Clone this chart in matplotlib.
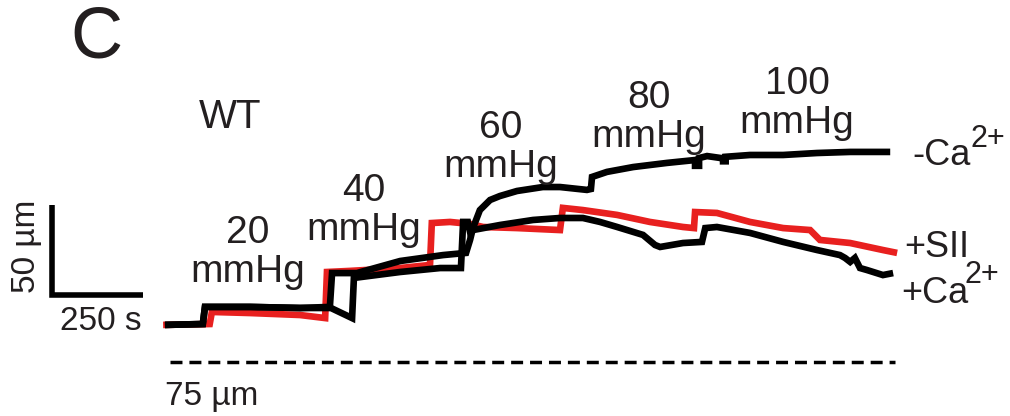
import matplotlib

matplotlib.use("Agg")
import matplotlib.pyplot as plt

plt.rcParams["font.family"] = ["Liberation Sans", "DejaVu Sans"]

# time (s) and diameter (um)
ca_free_time = [0, 104, 110, 234, 371, 453, 459, 527, 646, 764, 827, 838, 846, 865, 893,
                920, 967, 1038, 1085, 1159, 1170, 1173, 1214, 1286, 1379, 1456, 1456,
                1467, 1467, 1489, 1527, 1533, 1533, 1540, 1540, 1607, 1698, 1791, 1882,
                1992]
ca_free_diam = [95.6, 96.1, 105.6, 105.6, 105.0, 105.6, 124.4, 124.4, 131.1, 134.4, 135.6,
                142.8, 149.4, 159.4, 165.0, 167.2, 170.0, 172.2, 172.2, 170.6, 171.1,
                177.8, 180.6, 183.3, 185.6, 187.2, 184.0, 184.0, 188.3, 189.4, 188.3,
                188.3, 186.5, 186.5, 189.0, 190.0, 190.0, 191.1, 191.7, 191.7]

ca_time = [0, 104, 110, 234, 371, 456, 514, 519, 646, 756, 813, 819, 832, 838, 846, 920,
           1011, 1085, 1148, 1195, 1242, 1313, 1346, 1360, 1423, 1475, 1484, 1516, 1607,
           1698, 1791, 1854, 1868, 1882, 1895, 1909, 1928, 1972, 2000]
ca_diam = [95.6, 96.1, 105.6, 105.6, 105.0, 105.0, 99.4, 121.7, 125.0, 127.2, 127.2, 152.8,
           152.8, 147.2, 148.3, 151.1, 153.9, 155.0, 155.0, 152.8, 150.0, 145.6, 140.0,
           138.9, 141.1, 141.7, 149.4, 150.0, 146.7, 141.7, 137.2, 134.4, 132.8, 130.6,
           132.8, 127.2, 126.1, 123.3, 124.4]

sii_time = [-5, 123, 129, 234, 371, 440, 445, 508, 646, 728, 733, 783, 838, 874, 967, 1085,
            1093, 1148, 1242, 1332, 1423, 1453, 1456, 1516, 1607, 1698, 1772, 1799, 1882,
            1972, 2011]
sii_diam = [95.6, 96.1, 102.8, 102.2, 101.1, 99.4, 125.0, 125.6, 127.2, 128.9, 152.2, 152.8,
            151.7, 150.0, 149.4, 148.3, 160.6, 159.4, 156.7, 152.8, 150.0, 149.4, 158.3,
            157.8, 152.8, 149.4, 148.3, 142.8, 141.1, 137.2, 135.6]

pressure_labels = ["20\nmmHg", "40\nmmHg", "60\nmmHg", "80\nmmHg", "100\nmmHg"]
pressure_x = [248, 364, 501, 649, 797]
# baseline of the "mmHg" line, in pixels from the top
pressure_baseline = [282, 240, 177, 147, 133]

TEXT = "#231f20"
RED = "#e8201f"


def main() -> None:
    fig = plt.figure(figsize=(10.1, 4.16), dpi=100)
    ax = fig.add_axes([0, 0, 1, 1])
    ax.axis("off")
    ax.set_xlim(-453, 2321)
    ax.set_ylim(45, 276.1)

    trace = dict(lw=4.8, solid_joinstyle="miter", solid_capstyle="butt")
    ax.plot(sii_time, sii_diam, color=RED, zorder=2, **trace)
    ax.plot(ca_time, ca_diam, color="black", zorder=3, **trace)
    ax.plot(ca_free_time, ca_free_diam, color="black", zorder=3, **trace)

    # scale bars: 250 s and 50 um
    ax.plot([-310, -310, -60], [162.2, 112.2, 112.2], color="black", lw=4,
            solid_joinstyle="miter", solid_capstyle="butt")
    # 75 um reference line
    ax.plot([14, 2005], [75, 75], color="black", lw=2.5, dashes=(3.45, 2.0))

    def ftext(x, y, s, **kw):
        kw.setdefault("fontsize", 26)
        kw.setdefault("color", TEXT)
        fig.text(x / 1010, 1 - y / 416, s, **kw)

    ftext(96, 39, "C", fontsize=52, ha="center", va="center")
    ftext(230, 128, "WT", fontsize=29, ha="center", va="baseline")
    for label, x, y in zip(pressure_labels, pressure_x, pressure_baseline):
        ftext(x, y, label, fontsize=28, ha="center", va="baseline",
              linespacing=1.1)

    ftext(912, 165, "-Ca", ha="left", va="baseline")
    ftext(971, 147, "2+", fontsize=22, ha="left", va="baseline")
    ftext(904, 257, "+SII", ha="left", va="baseline")
    ftext(901, 303, "+Ca", ha="left", va="baseline")
    ftext(964, 283, "2+", fontsize=22, ha="left", va="baseline")
    ftext(101, 330, "250 s", fontsize=24, ha="center", va="baseline")
    ftext(27, 246, "50 µm", fontsize=24, ha="center", va="center", rotation=90)
    ftext(165, 405, "75 µm", fontsize=24, ha="left", va="baseline")

    fig.savefig("out.png", dpi=100)


if __name__ == "__main__":
    main()
